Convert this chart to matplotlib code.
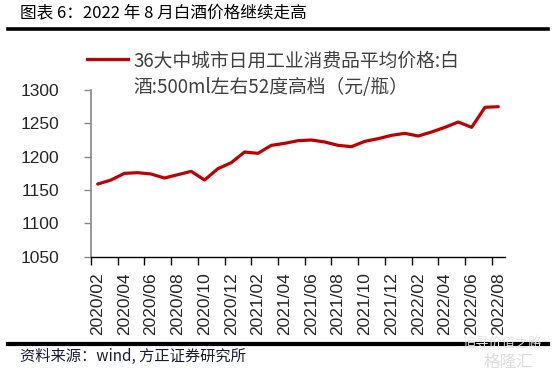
import matplotlib
matplotlib.use("Agg")
import matplotlib.pyplot as plt
from matplotlib.lines import Line2D

plt.rcParams['font.family'] = ['Noto Sans CJK SC', 'DejaVu Sans']

# monthly price, 2020/02 .. 2022/08 (yuan / bottle)
months = ['2020/%02d' % m for m in range(2, 13)] + \
         ['2021/%02d' % m for m in range(1, 13)] + \
         ['2022/%02d' % m for m in range(1, 9)]
price = [1159, 1165, 1175, 1176, 1174, 1168, 1173, 1178, 1165, 1182,
         1191, 1207, 1205, 1217, 1220, 1224, 1225, 1222, 1217, 1215,
         1223, 1227, 1232, 1235, 1231, 1237, 1244, 1252, 1244, 1274, 1275]
yticks = [1050, 1100, 1150, 1200, 1250, 1300]
title = '图表 6：2022 年 8 月白酒价格继续走高'
legend_lines = ['36大中城市日用工业消费品平均价格:白', '酒:500ml左右52度高档（元/瓶）']
source = '资料来源：wind, 方正证券研究所'

W, H = 552, 373
fig = plt.figure(figsize=(W / 100, H / 100), dpi=100)
ax = fig.add_axes([91 / W, 1 - 256.7 / H, 414 / W, 166.7 / H])

x = list(range(len(price)))
red = '#C00000'
ax.plot(x, price, color=red, lw=2.3, solid_joinstyle='round', solid_capstyle='round')

ax.set_xlim(-0.5, len(price) - 0.5)
ax.set_ylim(1050, 1300)
ax.set_yticks(yticks)
ax.set_yticklabels([str(v) for v in yticks], family='Liberation Sans', fontsize=12.5, color='#262626')

# ticks at category boundaries, labels at every second month
ax.set_xticks([i - 0.5 for i in range(0, len(price), 2)])
ax.set_xticklabels([])
ax.set_xticks(x[::2], minor=True)
ax.set_xticklabels(months[::2], minor=True, rotation=90, family='Liberation Sans',
                   fontsize=12.5, color='#262626')
ax.tick_params(axis='x', which='major', length=6, width=1, color='black', direction='out')
ax.tick_params(axis='x', which='minor', length=0, pad=11)
ax.tick_params(axis='y', length=5, width=1, color='#888888', pad=18)

for s in ['top', 'right']:
    ax.spines[s].set_visible(False)
ax.spines['left'].set_color('#888888')
ax.spines['left'].set_linewidth(1.2)
ax.spines['bottom'].set_color('black')
ax.spines['bottom'].set_linewidth(1)

# legend drawn by hand (handle lines up with first text line)
fig.add_artist(Line2D([87 / W, 128 / W], [1 - 59 / H, 1 - 59 / H], color=red, lw=2.3))
fig.text(133 / W, 1 - 61 / H, legend_lines[0], fontsize=13.5, color='#404040',
         va='center', ha='left')
fig.text(133 / W, 1 - 87 / H, legend_lines[1], fontsize=13.5, color='#404040',
         va='center', ha='left')

# title and rules
fig.text(20 / W, 1 - 14 / H, title, fontsize=12, color='black', va='center', ha='left')
fig.add_artist(Line2D([8 / W, 548 / W], [1 - 28.7 / H, 1 - 28.7 / H], color='black', lw=2.6))
fig.add_artist(Line2D([8 / W, 548 / W], [1 - 344 / H, 1 - 344 / H], color='black', lw=3))
fig.text(20 / W, 1 - 356 / H, source, fontsize=11, color='#1a1a3a', style='italic',
         va='center', ha='left')

# watermark
fig.text(462 / W, 1 - 343 / H, '追寻价值之路', fontsize=9.5, color='#e6e6e6', va='center', ha='left')
fig.text(484 / W, 1 - 362 / H, '格隆汇', fontsize=12, color='#dddddd', va='center', ha='left')

fig.savefig('out.png', dpi=100)
